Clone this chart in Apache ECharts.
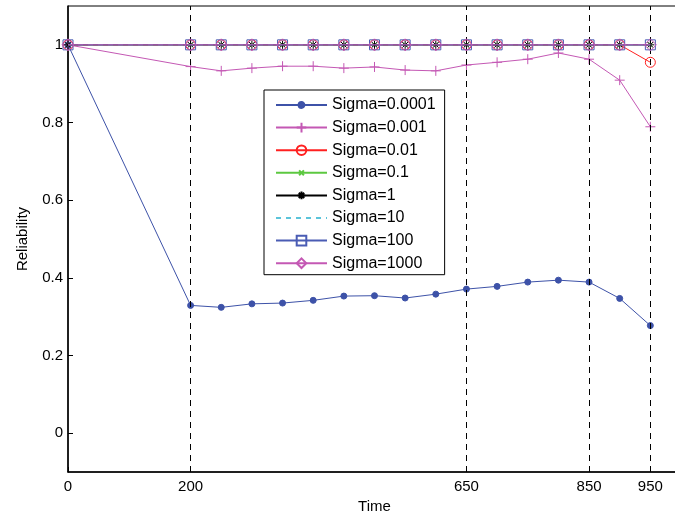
<!DOCTYPE html>
<html>
<head>
<meta charset="utf-8">
<script src="https://cdn.jsdelivr.net/npm/echarts@6/dist/echarts.min.js"></script>
<style>html,body{margin:0;padding:0;background:#fff;overflow:hidden}#c{width:675px;height:518px}</style>
</head>
<body>
<div id="c"></div>
<script>
const time = [0, 200, 250, 300, 350, 400, 450, 500, 550, 600, 650, 700, 750, 800, 850, 900, 950];
const xTicks = [0, 200, 650, 850, 950];
const yTicks = [0, 0.2, 0.4, 0.6, 0.8, 1];
const sigma0001 = [1, 0.329, 0.324, 0.333, 0.335, 0.342, 0.353, 0.354, 0.348, 0.358, 0.371, 0.378, 0.389, 0.394, 0.389, 0.347, 0.277];
const sigma001 = [1, 0.944, 0.933, 0.940, 0.945, 0.945, 0.940, 0.943, 0.935, 0.933, 0.948, 0.955, 0.963, 0.979, 0.963, 0.909, 0.789];
const sigma01 = [1, 1, 1, 1, 1, 1, 1, 1, 1, 1, 1, 1, 1, 1, 1, 1, 0.955];
const sigma1 = [1, 1, 1, 1, 1, 1, 1, 1, 1, 1, 1, 1, 1, 1, 1, 1, 1];
const sigma10 = [1, 1, 1, 1, 1, 1, 1, 1, 1, 1, 1, 1, 1, 1, 1, 1, 1];
const sigma100 = [1, 1, 1, 1, 1, 1, 1, 1, 1, 1, 1, 1, 1, 1, 1, 1, 1];
const sigma1000 = [1, 1, 1, 1, 1, 1, 1, 1, 1, 1, 1, 1, 1, 1, 1, 1, 1];
const sigma10000 = [1, 1, 1, 1, 1, 1, 1, 1, 1, 1, 1, 1, 1, 1, 1, 1, 1];
const names = ['Sigma=0.0001', 'Sigma=0.001', 'Sigma=0.01', 'Sigma=0.1', 'Sigma=1', 'Sigma=10', 'Sigma=100', 'Sigma=1000'];
const values = [sigma0001, sigma001, sigma01, sigma1, sigma10, sigma100, sigma1000, sigma10000];

const FONT = '"Liberation Sans", Arial, Helvetica, sans-serif';
// symbol paths padded with corner moves so the mark sits inside a 10x10 box
const DOT = 'path://M0,0M10,10M5,2A3,3,0,1,1,4.99,2Z';
const PLUS = 'path://M5,0L5,10M0,5L10,5';
const CROSS = 'path://M0,0M10,10M2.5,2.5L7.5,7.5M7.5,2.5L2.5,7.5';
const STAR = 'path://M0,0M10,10M5,1L5,9M1,5L9,5M2.2,2.2L7.8,7.8M7.8,2.2L2.2,7.8';
const styles = [
  {c: '#3D52A8', symbol: DOT, size: 10, fill: true},
  {c: '#C458B4', symbol: PLUS, size: 10},
  {c: '#FF2020', symbol: 'circle', size: 10},
  {c: '#5CC840', symbol: CROSS, size: 10},
  {c: '#000000', symbol: STAR, size: 10},
  {c: '#5BC4DA', symbol: 'circle', size: 1, hidden: true, dashed: true},
  {c: '#4A5CB4', symbol: 'rect', size: 10},
  {c: '#C458B4', symbol: 'diamond', size: 12}
];

const series = names.map((n, i) => {
  const s = styles[i];
  return {
    name: n,
    type: 'line',
    data: time.map((t, j) => [t, values[i][j]]),
    symbol: s.symbol,
    symbolSize: s.size,
    showSymbol: !s.hidden,
    animation: false,
    lineStyle: {color: s.c, width: 1, type: s.dashed ? [5, 5] : 'solid'},
    itemStyle: {
      color: s.fill ? s.c : 'rgba(255,255,255,0)',
      borderColor: s.hidden ? 'rgba(255,255,255,0)' : s.c,
      borderWidth: 1
    },
    emphasis: {disabled: true},
    z: 3 + i
  };
});

series[0].markLine = {
  silent: true,
  symbol: 'none',
  label: {show: false},
  lineStyle: {color: '#000', type: [6, 5], width: 1},
  data: xTicks.filter(v => v > 0).map(v => ({xAxis: v}))
};

const chart = echarts.init(document.getElementById('c'), null, {renderer: 'canvas'});
chart.setOption({
  animation: false,
  backgroundColor: '#fff',
  grid: {left: 68, top: 6, width: 613, height: 466, outerBoundsMode: 'none', containLabel: false, show: true, borderColor: '#000', borderWidth: 1, backgroundColor: 'transparent'},
  legend: {
    orient: 'vertical',
    left: 264,
    top: 90,
    padding: [7, 9, 3.5, 11],
    itemWidth: 51,
    itemHeight: 12,
    itemGap: 6.6,
    borderColor: '#000',
    borderWidth: 1,
    backgroundColor: '#fff',
    textStyle: {fontFamily: FONT, fontSize: 16, color: '#000'},
    data: names
  },
  xAxis: {
    type: 'value',
    min: 0,
    max: 1000,
    name: 'Time',
    nameLocation: 'middle',
    nameGap: 27,
    nameTextStyle: {fontFamily: FONT, fontSize: 15, color: '#000'},
    axisLine: {show: true, onZero: false, lineStyle: {color: '#000', width: 1.5}},
    axisTick: {show: true, inside: true, length: 5, customValues: xTicks, lineStyle: {color: '#000'}},
    axisLabel: {customValues: xTicks, fontFamily: FONT, fontSize: 15, color: '#000', margin: 7},
    splitLine: {show: false}
  },
  yAxis: {
    type: 'value',
    min: -0.1,
    max: 1.1,
    name: 'Reliability',
    nameLocation: 'middle',
    nameGap: 38,
    nameTextStyle: {fontFamily: FONT, fontSize: 15, color: '#000'},
    axisLine: {show: true, onZero: false, lineStyle: {color: '#000', width: 1.5}},
    axisTick: {show: true, inside: true, length: 5, customValues: yTicks, lineStyle: {color: '#000'}},
    axisLabel: {customValues: yTicks, fontFamily: FONT, fontSize: 15, color: '#000', margin: 5},
    splitLine: {show: false}
  },
  series: series
});
</script>
</body>
</html>
